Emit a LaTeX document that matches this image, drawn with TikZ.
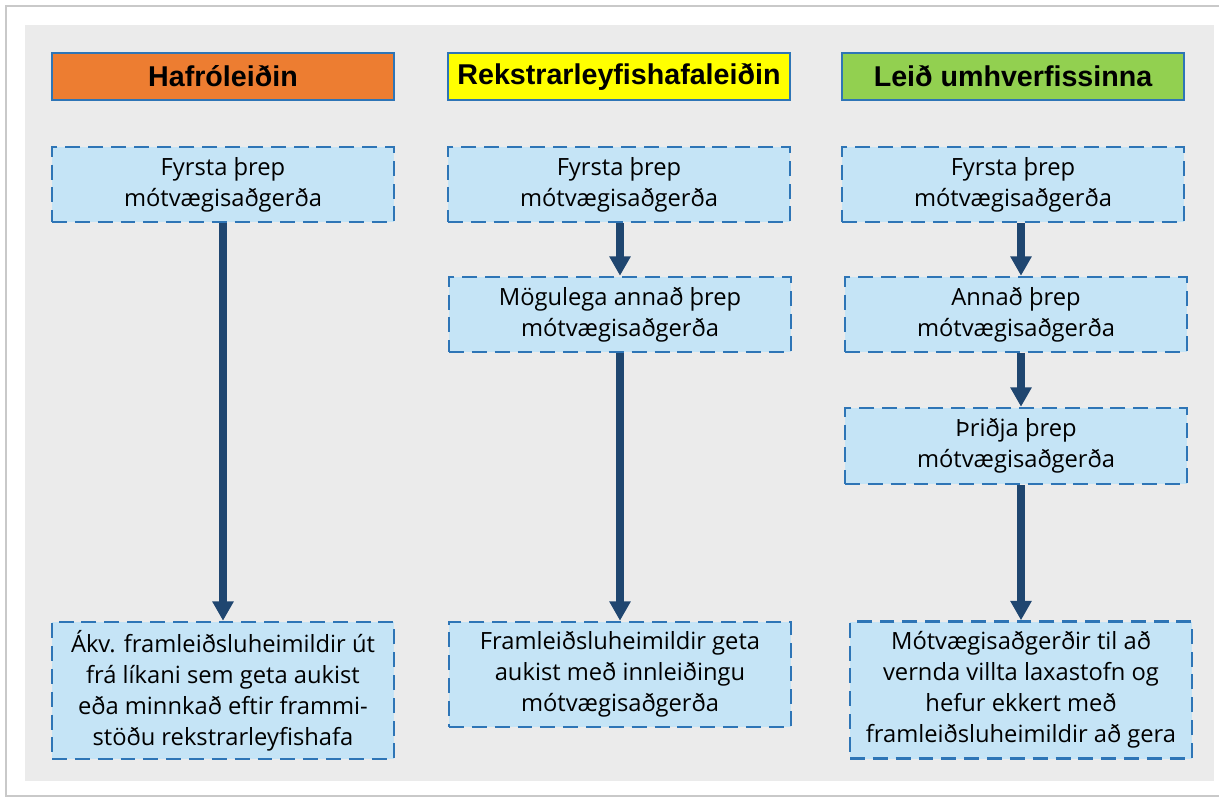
\documentclass[tikz,border=0pt]{standalone}
\usepackage{fontspec}
\setmainfont{Open Sans}
\newfontfamily\headfont{Liberation Sans}
\usetikzlibrary{arrows.meta}

\definecolor{fond}{HTML}{EBEBEB}
\definecolor{cadre}{HTML}{C9C9C9}
\definecolor{bord}{HTML}{2E75B6}
\definecolor{boite}{HTML}{C5E4F6}
\definecolor{fleche}{HTML}{1F4670}
\definecolor{orange}{HTML}{ED7D31}
\definecolor{jaune}{HTML}{FFFF00}
\definecolor{vert}{HTML}{92D050}

\tikzset{
	titre/.style={draw=bord, line width=1.3pt, minimum width=342*0.02cm, minimum height=47*0.02cm, font=\headfont\bfseries\fontsize{16.3}{19}\selectfont},
	etape/.style={draw=bord, fill=boite, line width=1.4pt, dash pattern=on 8.5pt off 4.5pt, minimum width=342*0.02cm, minimum height=75*0.02cm, align=center, font=\fontsize{13.5}{17.6}\selectfont},
	fl/.style={draw=fleche, line width=4pt, -{Triangle[length=11pt, width=11.5pt]}}
}

\begin{document}
\begin{tikzpicture}[x=0.02cm, y=-0.02cm]

	\def\a{223}  % colonne 1
	\def\b{619}  % colonne 2
	\def\c{1013} % colonne 3
	
	\useasboundingbox (0, 0) rectangle (1225, 797);
	\draw[cadre, line width=0.6pt] (1219, 6) -- (6, 6) -- (6, 796) -- (1219, 796);
	\fill[fond] (25, 25) rectangle (1214, 781);
	
	\node[ titre, fill=orange ] (h1) at (\a, 76.5) {Hafróleiðin};
	\node[ titre, fill=jaune ] (h2) at (\b, 76.5) {Rekstrarleyfishafaleiðin};
	\node[ titre, fill=vert ] (h3) at (\c, 76.5) {Leið umhverfissinna};
	
	\node[ etape ] (a1) at (\a, 184.5) {Fyrsta þrep\\mótvægisaðgerða};
	\node[ etape, minimum height=137*0.02cm ] (a2) at (\a, 690.5) {Ákv. framleiðsluheimildir út\\frá líkani sem geta aukist\\eða minnkað eftir frammi-\\stöðu rekstrarleyfishafa};
	
	\node[ etape ] (b1) at (\b, 184.5) {Fyrsta þrep\\mótvægisaðgerða};
	\node[ etape ] (b2) at (\b+1, 314.5) {Mögulega annað þrep\\mótvægisaðgerða};
	\node[ etape, minimum height=105*0.02cm ] (b3) at (\b+1, 674.5) {Framleiðsluheimildir geta\\aukist með innleiðingu\\mótvægisaðgerða};
	
	\node[ etape ] (c1) at (\c, 184.5) {Fyrsta þrep\\mótvægisaðgerða};
	\node[ etape ] (c2) at (\c+3, 314.5) {Annað þrep\\mótvægisaðgerða};
	\node[ etape, minimum height=76*0.02cm ] (c3) at (\c+3, 446) {Þriðja þrep\\mótvægisaðgerða};
	\node[ etape, minimum height=137*0.02cm ] (c4) at (\c+8, 690) {Mótvægisaðgerðir til að\\vernda villta laxastofn og\\hefur ekkert með\\framleiðsluheimildir að gera};
	
	\draw[ fl ] (a1) -- (a2);
	\draw[ fl ] (b1.south -| b2.north) -- (b2);
	\draw[ fl ] (b2) -- (b3);
	\draw[ fl ] (c1.south -| c4.north) -- (c2.north -| c4.north);
	\draw[ fl ] (c2.south -| c4.north) -- (c3.north -| c4.north);
	\draw[ fl ] (c3.south -| c4.north) -- (c4);

\end{tikzpicture}
\end{document}
